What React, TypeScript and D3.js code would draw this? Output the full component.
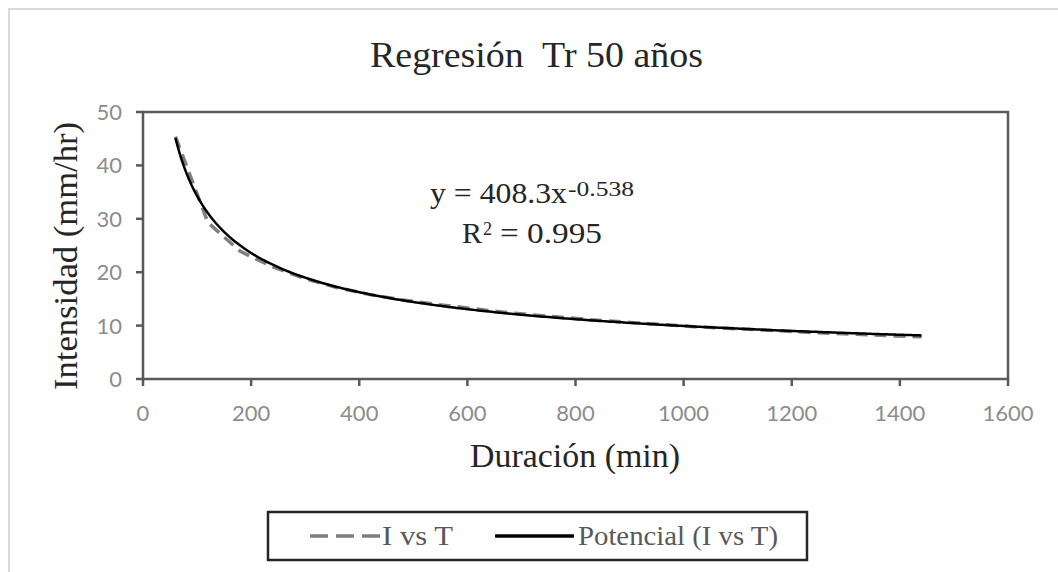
import React from "react";
import * as d3 from "d3";

const durations = [60, 120, 180, 240, 300, 360, 420, 480, 540, 600, 660, 720, 780, 840, 900, 960, 1020, 1080, 1140, 1200, 1260, 1320, 1380, 1440];
const intensities = [45.4, 29.3, 23.9, 21.0, 18.8, 17.1, 15.8, 14.8, 14.0, 13.3, 12.6, 12.0, 11.5, 11.0, 10.6, 10.2, 9.8, 9.5, 9.2, 8.9, 8.6, 8.4, 8.1, 7.9];
const fitA = 408.3;
const fitB = -0.538;
const fitR2 = "0.995";
const xTicks = [0, 200, 400, 600, 800, 1000, 1200, 1400, 1600];
const yTicks = [0, 10, 20, 30, 40, 50];
const title = "Regresión  Tr 50 años";
const xLabel = "Duración (min)";
const yLabel = "Intensidad (mm/hr)";
const legendLabels = ["I vs T", "Potencial (I vs T)"];

const W = 1058, H = 572;
const M = { left: 143, right: 1008, top: 112, bottom: 379 };

export default function App() {
  const x = d3.scaleLinear().domain([0, 1600]).range([M.left, M.right]);
  const y = d3.scaleLinear().domain([0, 50]).range([M.bottom, M.top]);
  const data = durations.map((d, i) => [d, intensities[i]] as [number, number]);
  const line = d3.line<[number, number]>().x(d => x(d[0])).y(d => y(d[1]));
  const fitXs = d3.range(durations[0], durations[durations.length - 1] + 0.1, 5);
  const fitData = fitXs.map(t => [t, fitA * Math.pow(t, fitB)] as [number, number]);
  const serif = "'Liberation Serif', 'Times New Roman', serif";
  const sans = "Lato, 'Open Sans', sans-serif";
  const axisColor = "#595959";
  const textColor = "#262626";
  return (
    <svg width={W} height={H} style={{ position: "absolute", left: 0, top: 0, background: "#fff" }}>
      <rect x={9} y={9} width={W + 10} height={H + 10} fill="#fff" stroke="#d9d9d9" strokeWidth={2} />
      <text x={370} y={67} textLength={333} lengthAdjust="spacingAndGlyphs" fontFamily={serif} fontSize={36} fill={textColor} style={{ whiteSpace: "pre" }}>{title}</text>
      {/* plot frame */}
      <rect x={M.left} y={M.top} width={M.right - M.left} height={M.bottom - M.top} fill="none" stroke={axisColor} strokeWidth={2.5} />
      {yTicks.map(t => (
        <g key={"y" + t}>
          <line x1={M.left - 7} x2={M.left} y1={y(t)} y2={y(t)} stroke={axisColor} strokeWidth={2.5} />
          <text x={M.left - 21} y={y(t)} dy="0.36em" textAnchor="end" fontFamily={sans} fontSize={22} fill="#8c8c8c">{t}</text>
        </g>
      ))}
      {xTicks.map(t => (
        <g key={"x" + t}>
          <line x1={x(t)} x2={x(t)} y1={M.bottom} y2={M.bottom + 7} stroke={axisColor} strokeWidth={2.5} />
          <text x={x(t)} y={421} textAnchor="middle" fontFamily={sans} fontSize={22} fill="#8c8c8c">{t}</text>
        </g>
      ))}
      <path d={line(data) || ""} fill="none" stroke="#7f7f7f" strokeWidth={3.5} strokeDasharray="12,7" />
      <path d={line(fitData) || ""} fill="none" stroke="#000" strokeWidth={2.5} />
      <text x={430} y={203} textLength={137} lengthAdjust="spacingAndGlyphs" fontFamily={serif} fontSize={29} fill={textColor} style={{ whiteSpace: "pre" }}>{`y = ${fitA}x`}</text>
      <text x={568} y={196} textLength={66} lengthAdjust="spacingAndGlyphs" fontFamily={serif} fontSize={20} fill={textColor}>{`${fitB}`}</text>
      <text x={462} y={243} textLength={20} lengthAdjust="spacingAndGlyphs" fontFamily={serif} fontSize={29} fill={textColor}>R</text>
      <text x={483} y={235} fontFamily={serif} fontSize={18} fill={textColor}>2</text>
      <text x={500} y={243} textLength={102} lengthAdjust="spacingAndGlyphs" fontFamily={serif} fontSize={29} fill={textColor} style={{ whiteSpace: "pre" }}>{`= ${fitR2}`}</text>
      <text x={470} y={467} textLength={210} lengthAdjust="spacingAndGlyphs" fontFamily={serif} fontSize={33} fill={textColor}>{xLabel}</text>
      <text transform={`translate(77,390) rotate(-90)`} textLength={268} lengthAdjust="spacingAndGlyphs" fontFamily={serif} fontSize={34} fill={textColor}>{yLabel}</text>
      {/* legend */}
      <rect x={268} y={512} width={539} height={48} fill="#fff" stroke="#262626" strokeWidth={2.5} />
      <line x1={310} x2={380} y1={536} y2={536} stroke="#7f7f7f" strokeWidth={3.5} strokeDasharray="18,8" />
      <text x={382} y={545} textLength={71} lengthAdjust="spacingAndGlyphs" fontFamily={serif} fontSize={27} fill="#595959">{legendLabels[0]}</text>
      <line x1={495} x2={574} y1={536} y2={536} stroke="#000" strokeWidth={3.5} />
      <text x={578} y={545} textLength={200} lengthAdjust="spacingAndGlyphs" fontFamily={serif} fontSize={27} fill="#595959">{legendLabels[1]}</text>
    </svg>
  );
}
